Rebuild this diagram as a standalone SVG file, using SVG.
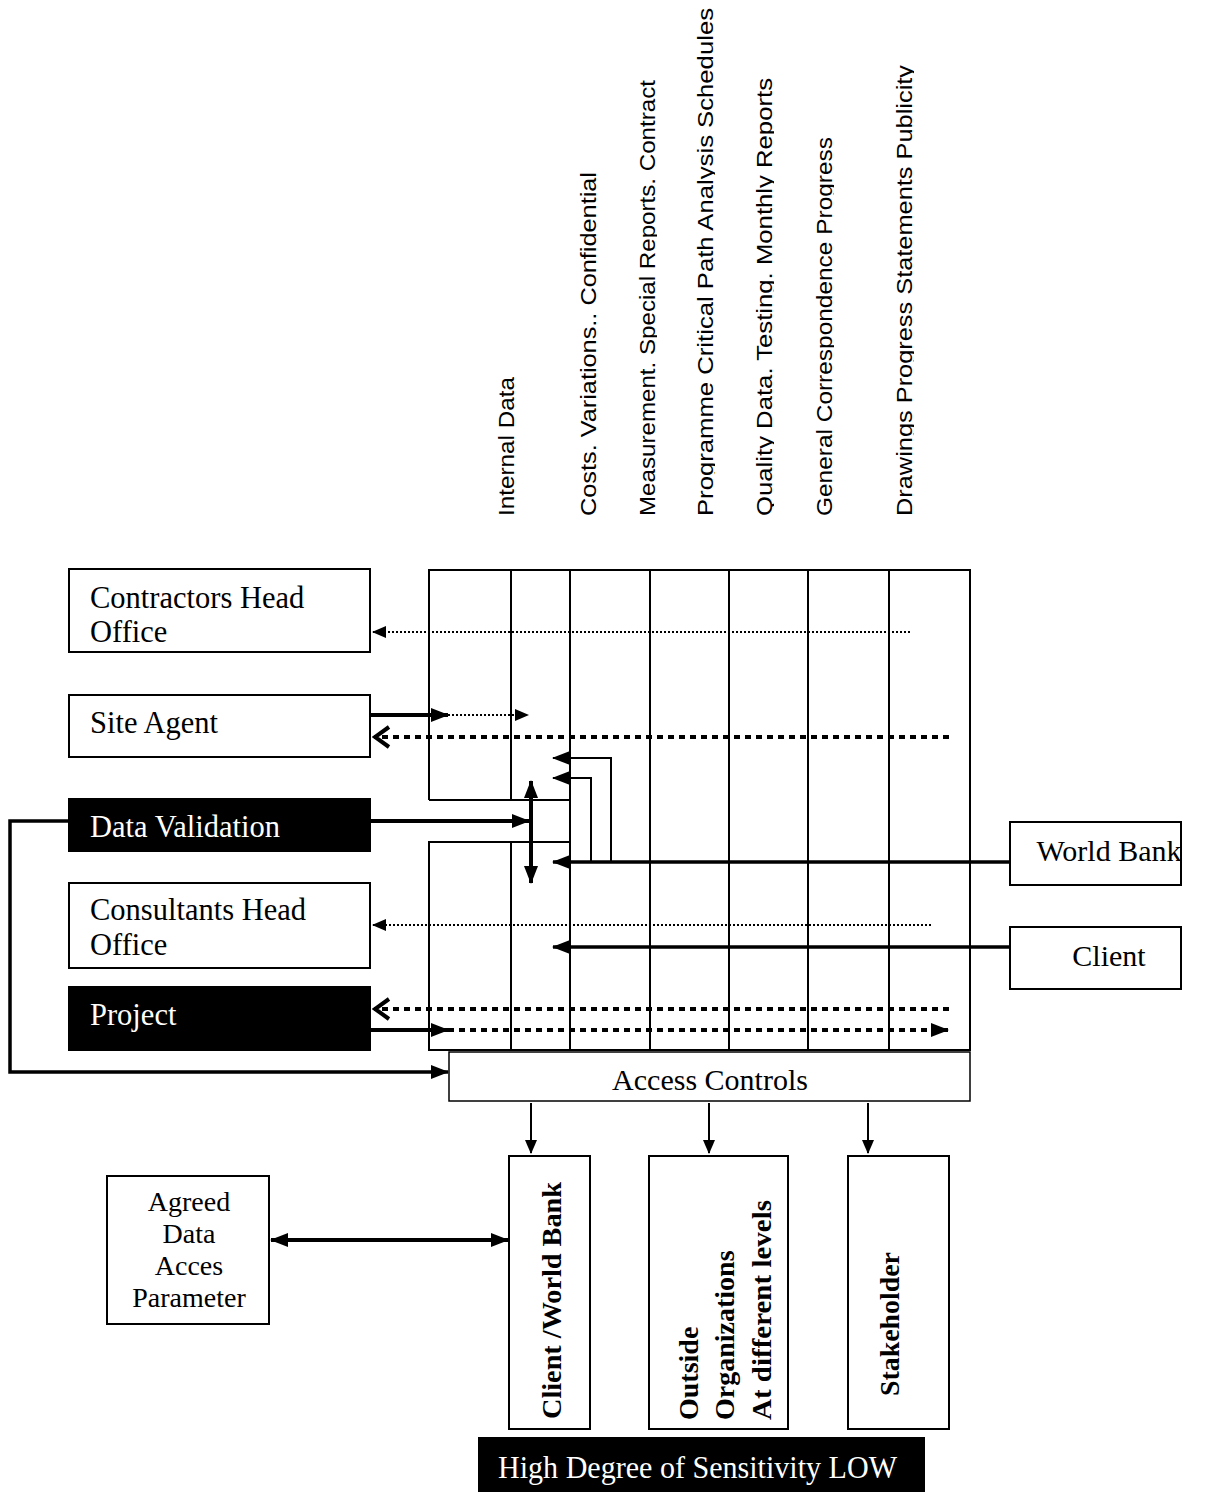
<svg xmlns="http://www.w3.org/2000/svg" width="1214" height="1492" viewBox="0 0 1214 1492">
<style>
.bg{fill:#fff}
.box{fill:#fff;stroke:#000;stroke-width:2}
.dark{fill:#000;stroke:#000;stroke-width:2}
.grid{fill:none;stroke:#000;stroke-width:2}
.ntext{font-family:"Liberation Serif","Times New Roman",serif;font-size:30.5px;fill:#000}
.wtext{font-family:"Liberation Serif","Times New Roman",serif;font-size:30.5px;fill:#fff}
.col{font-family:"Liberation Sans Narrow","Liberation Sans",Arial,sans-serif;font-size:22px;fill:#000}
.vb{font-family:"Liberation Serif","Times New Roman",serif;font-size:28px;font-weight:bold;fill:#000}
.thick{fill:none;stroke:#000;stroke-width:4}
.med{fill:none;stroke:#000;stroke-width:3.5}
.thin{fill:none;stroke:#000;stroke-width:2}
.dotthin{fill:none;stroke:#000;stroke-width:2;stroke-dasharray:2 2}
.dotthick{fill:none;stroke:#000;stroke-width:4;stroke-dasharray:6 5}
</style>
<defs>
<marker id="ah" markerUnits="userSpaceOnUse" markerWidth="18" markerHeight="16" refX="17" refY="8" orient="auto-start-reverse" viewBox="0 0 18 16">
<path d="M0,1 L18,8 L0,15 z" fill="#000"/>
</marker>
<marker id="ahs" markerUnits="userSpaceOnUse" markerWidth="14" markerHeight="12" refX="13" refY="6" orient="auto" viewBox="0 0 14 12">
<path d="M0,0 L14,6 L0,12 z" fill="#000"/>
</marker>
<marker id="chev" markerUnits="userSpaceOnUse" markerWidth="20" markerHeight="24" refX="18" refY="12" orient="auto" viewBox="0 0 20 24">
<path d="M3,2 L17,12 L3,22" fill="none" stroke="#000" stroke-width="4"/>
</marker>
<clipPath id="colclip" clipPathUnits="userSpaceOnUse">
<rect x="480" y="0" width="36" height="530"/>
<rect x="560" y="0" width="38" height="530"/>
<rect x="620" y="0" width="37" height="530"/>
<rect x="680" y="0" width="35" height="530"/>
<rect x="738" y="0" width="36" height="530"/>
<rect x="798" y="0" width="36" height="530"/>
<rect x="876" y="0" width="38" height="530"/>
</clipPath>
</defs>
<rect class="bg" x="0" y="0" width="1214" height="1492"/>

<g id="column-labels" clip-path="url(#colclip)">
<text class="col" transform="translate(514,516) rotate(-90)" textLength="139" lengthAdjust="spacingAndGlyphs">Internal Data</text>
<text class="col" transform="translate(596,516) rotate(-90)" textLength="344" lengthAdjust="spacingAndGlyphs">Costs. Variations.. Confidential</text>
<text class="col" transform="translate(655,516) rotate(-90)" textLength="436" lengthAdjust="spacingAndGlyphs">Measurement. Special Reports. Contract</text>
<text class="col" transform="translate(713,516) rotate(-90)" textLength="508" lengthAdjust="spacingAndGlyphs">Programme  Critical Path Analysis  Schedules</text>
<text class="col" transform="translate(772,516) rotate(-90)" textLength="438" lengthAdjust="spacingAndGlyphs">Quality Data. Testing. Monthly Reports</text>
<text class="col" transform="translate(832,516) rotate(-90)" textLength="379" lengthAdjust="spacingAndGlyphs">General Correspondence  Progress</text>
<text class="col" transform="translate(912,516) rotate(-90)" textLength="451" lengthAdjust="spacingAndGlyphs">Drawings  Progress Statements  Publicity</text>
</g>

<g id="data-grid">
<path class="grid" d="M429,800 L429,570 L970,570 L970,1050 L429,1050 L429,842 L570,842"/>
<path class="grid" d="M429,800 L570,800"/>
<path class="grid" d="M511,570 L511,800 M511,842 L511,1050"/>
<path class="grid" d="M570,570 L570,1050 M650,570 L650,1050 M729,570 L729,1050 M808,570 L808,1050 M889,570 L889,1050"/>
</g>

<g id="contractors-head-office">
<rect class="box" x="69" y="569" width="301" height="83"/>
<text class="ntext" x="90" y="608">Contractors Head</text>
<text class="ntext" x="90" y="642">Office</text>
</g>
<g id="site-agent">
<rect class="box" x="69" y="695" width="301" height="62"/>
<text class="ntext" x="90" y="733">Site Agent</text>
</g>
<g id="data-validation">
<rect class="dark" x="69" y="799" width="301" height="52"/>
<text class="wtext" x="90" y="837">Data Validation</text>
</g>
<g id="consultants-head-office">
<rect class="box" x="69" y="883" width="301" height="85"/>
<text class="ntext" x="90" y="920">Consultants Head</text>
<text class="ntext" x="90" y="955">Office</text>
</g>
<g id="project">
<rect class="dark" x="69" y="987" width="301" height="63"/>
<text class="wtext" x="90" y="1025">Project</text>
</g>
<g id="world-bank">
<rect class="box" x="1010" y="822" width="171" height="63"/>
<text class="ntext" x="1109" y="861" text-anchor="middle" style="font-size:30px">World Bank</text>
</g>
<g id="client">
<rect class="box" x="1010" y="927" width="171" height="62"/>
<text class="ntext" x="1109" y="966" text-anchor="middle" style="font-size:30px">Client</text>
</g>
<g id="access-controls">
<rect class="box" x="449" y="1052" width="521" height="49" style="stroke-width:1.5"/>
<text class="ntext" x="710" y="1090" text-anchor="middle" style="font-size:30px">Access Controls</text>
</g>
<g id="agreed-data-access-parameter">
<rect class="box" x="107" y="1176" width="162" height="148"/>
<text class="ntext" x="189" y="1211" text-anchor="middle" style="font-size:28px">Agreed</text>
<text class="ntext" x="189" y="1243" text-anchor="middle" style="font-size:28px">Data</text>
<text class="ntext" x="189" y="1275" text-anchor="middle" style="font-size:28px">Acces</text>
<text class="ntext" x="189" y="1307" text-anchor="middle" style="font-size:28px">Parameter</text>
</g>
<g id="client-world-bank">
<rect class="box" x="509" y="1156" width="81" height="273"/>
<text class="vb" transform="translate(561,1419) rotate(-90)" textLength="237" lengthAdjust="spacingAndGlyphs">Client /World Bank</text>
</g>
<g id="outside-organizations">
<rect class="box" x="649" y="1156" width="139" height="273"/>
<text class="vb" transform="translate(698,1420) rotate(-90)">Outside</text>
<text class="vb" transform="translate(734,1420) rotate(-90)">Organizations</text>
<text class="vb" transform="translate(771,1420) rotate(-90)" textLength="220" lengthAdjust="spacingAndGlyphs">At different levels</text>
</g>
<g id="stakeholder">
<rect class="box" x="848" y="1156" width="101" height="273"/>
<text class="vb" transform="translate(899,1396) rotate(-90)" textLength="144" lengthAdjust="spacingAndGlyphs">Stakeholder</text>
</g>
<g id="sensitivity-scale">
<rect x="478" y="1437" width="447" height="56" fill="#000"/>
<text class="wtext" x="498" y="1478" style="font-size:32px" textLength="399" lengthAdjust="spacingAndGlyphs">High Degree of Sensitivity LOW</text>
</g>

<g id="connectors">
<path class="dotthin" d="M910,632 L373,632" marker-end="url(#ahs)"/>
<path class="thick" d="M370,715 L448,715" marker-end="url(#ah)"/>
<path class="dotthin" d="M448,715 L528,715" marker-end="url(#ahs)"/>
<path class="dotthick" d="M949,737 L374,737" marker-end="url(#chev)"/>
<path class="thick" d="M370,821 L529,821" marker-end="url(#ah)"/>
<path class="thick" d="M531,781 L531,883" marker-start="url(#ah)" marker-end="url(#ah)"/>
<path class="med" d="M1010,862 L553,862" marker-end="url(#ah)"/>
<path class="thin" d="M591,862 L591,778 L553,778" marker-end="url(#ah)"/>
<path class="thin" d="M611,862 L611,758 L553,758" marker-end="url(#ah)"/>
<path class="dotthin" d="M931,925 L373,925" marker-end="url(#ahs)"/>
<path class="med" d="M1010,947 L553,947" marker-end="url(#ah)"/>
<path class="dotthick" d="M949,1009 L374,1009" marker-end="url(#chev)"/>
<path class="thick" d="M370,1030 L448,1030" marker-end="url(#ah)"/>
<path class="dotthick" d="M448,1030 L948,1030" marker-end="url(#ah)"/>
<path class="med" d="M69,821 L10,821 L10,1072 L448,1072" marker-end="url(#ah)"/>
<path class="thin" d="M531,1103 L531,1153" marker-end="url(#ahs)"/>
<path class="thin" d="M709,1103 L709,1153" marker-end="url(#ahs)"/>
<path class="thin" d="M868,1103 L868,1153" marker-end="url(#ahs)"/>
<path class="thick" d="M271,1240 L508,1240" marker-start="url(#ah)" marker-end="url(#ah)"/>
</g>
</svg>
